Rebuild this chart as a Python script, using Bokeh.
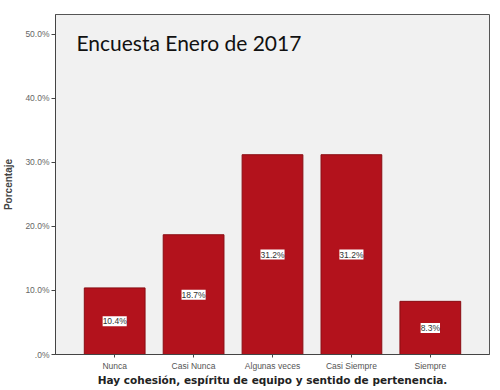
from bokeh.plotting import figure
from bokeh.models import ColumnDataSource, FactorRange, Range1d, FixedTicker, LabelSet, Label
from bokeh.core.properties import value
from bokeh.embed import file_html
from bokeh.resources import INLINE

categories = ["Nunca", "Casi Nunca", "Algunas veces", "Casi Siempre", "Siempre"]
values = [10.4, 18.7, 31.2, 31.2, 8.3]
value_labels = ["10.4%", "18.7%", "31.2%", "31.2%", "8.3%"]
y_ticks = [0, 10, 20, 30, 40, 50]
y_tick_labels = [".0%", "10.0%", "20.0%", "30.0%", "40.0%", "50.0%"]
x_title = "Hay cohesión, espíritu de equipo y sentido de pertenencia."
chart_title = "Encuesta Enero de 2017"

src = ColumnDataSource(dict(cat=categories, val=values, mid=[v / 2 for v in values], lab=value_labels))

p = figure(width=492, height=388, output_backend="svg", toolbar_location=None,
           x_range=FactorRange(*categories, range_padding=0.1),
           y_range=Range1d(0, 53.1),
           min_border_left=49, min_border_right=3, min_border_top=14, min_border_bottom=0)

p.vbar(x="cat", top="val", width=0.77, source=src, fill_color="#b3121c", line_color="#8a0c12", line_width=1)

labels = LabelSet(x="cat", y="mid", text="lab", source=src, text_align="center", text_baseline="middle",
                  text_font_size="8.5px", text_color="#333333", text_font=value("Liberation Sans"),
                  background_fill_color="white", background_fill_alpha=1.0)
p.add_layout(labels)

title = Label(x=21, y=300, x_units="screen", y_units="screen", text=chart_title,
              text_font="Lato", text_font_size="21px", text_color="#111111")
p.add_layout(title)

p.background_fill_color = "#f1f1f1"
p.border_fill_color = "white"
p.outline_line_color = "#555555"
p.outline_line_width = 1
p.xgrid.visible = False
p.ygrid.visible = False

p.yaxis.ticker = FixedTicker(ticks=y_ticks)
p.yaxis.major_label_overrides = {t: l for t, l in zip(y_ticks, y_tick_labels)}
p.yaxis.axis_label = "Porcentaje"
p.yaxis.axis_label_text_font = "Liberation Sans"
p.yaxis.axis_label_text_font_style = "bold"
p.yaxis.axis_label_text_font_size = "10px"
p.yaxis.axis_label_standoff = 8
p.yaxis.major_label_text_font_size = "8.5px"
p.yaxis.major_label_text_color = "#666666"
p.yaxis.major_label_standoff = 2
p.yaxis.minor_tick_line_color = None
p.yaxis.major_tick_out = 4
p.yaxis.major_tick_in = 0
p.yaxis.axis_line_color = "#444444"
p.yaxis.major_tick_line_color = "#444444"

p.xaxis.axis_label = x_title
p.xaxis.axis_label_text_font = "DejaVu Sans"
p.xaxis.axis_label_text_font_style = "bold"
p.xaxis.axis_label_text_font_size = "10.5px"
p.xaxis.axis_label_text_color = "#222222"
p.xaxis.axis_label_standoff = 0
p.xaxis.major_label_text_font_size = "8.5px"
p.xaxis.major_label_text_color = "#555555"
p.xaxis.major_label_standoff = 3
p.xaxis.major_tick_out = 3
p.xaxis.major_tick_in = 0
p.xaxis.axis_line_color = "#444444"
p.xaxis.major_tick_line_color = "#444444"

open("out.html", "w").write(file_html(p, INLINE))
